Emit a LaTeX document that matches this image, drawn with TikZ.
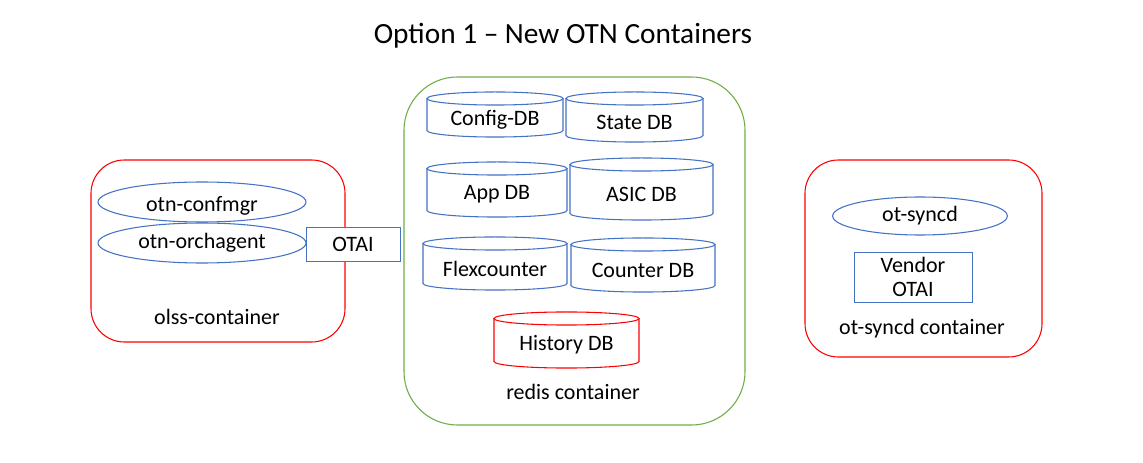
\documentclass[tikz,border=0pt]{standalone}
\usepackage{fontspec}
\setmainfont{Carlito}
\usetikzlibrary{shapes.geometric}
\definecolor{obblue}{HTML}{4472C4}
\definecolor{obred}{HTML}{FF0000}
\definecolor{obgreen}{HTML}{70AD47}
\tikzset{
  lw/.style={line width=0.8pt},
  dbline/.style={lw},
  dbtext/.style={font=\fontsize{16.5}{19}\selectfont, inner sep=0pt},
  lbl/.style={font=\fontsize{16.5}{19}\selectfont, inner sep=0pt},
  procell/.style={ellipse, draw=obblue, lw, inner sep=0pt, font=\fontsize{16.5}{19}\selectfont},
  boxnode/.style={rectangle, draw=obblue, line width=0.7pt, fill=white, inner sep=0pt, font=\fontsize{16.5}{19}\selectfont, align=center},
  contbox/.style={lw, rounded corners=25pt},
}
\newcommand{\dbcyl}[7]{%
  \pgfmathsetmacro{\dbcx}{(#2+#4)/2}%
  \pgfmathsetmacro{\dbcy}{(#3+#5)/2}%
  \pgfmathsetmacro{\dbrx}{(#4-#2)/2*0.75}%
  \draw[dbline,#6] (#2,#3+6.5) -- (#2,#5-6.5) arc[start angle=180,end angle=360,x radius=\dbrx pt,y radius=4.9pt] -- (#4,#3+6.5);
  \draw[dbline,#6] (\dbcx,#3+6.5) ellipse[x radius=\dbrx pt, y radius=4.9pt];
  \node[dbtext] (#1) at (\dbcx,\dbcy+5) {#7};
}
\begin{document}
\begin{tikzpicture}[x=0.75pt,y=-0.75pt]
\useasboundingbox[fill=white] (0,0) rectangle (1143,463);
% title
\node[font=\fontsize{22}{26}\selectfont, inner sep=0pt] (title) at (563,36) {Option 1 – New OTN Containers};

% left container
\draw[contbox, draw=obred] (91,160) rectangle (345,342);
\node[procell, minimum width=156pt, minimum height=30pt, text depth=0pt] (confmgr) at (202,202) {\raisebox{-2.5pt}{otn-confmgr}};
\node[procell, minimum width=156pt, minimum height=30pt] (orch) at (202,243) {\raisebox{-2pt}{otn-orchagent}};
\node[boxnode, minimum width=70.5pt, minimum height=25.5pt] (otai) at (353,244) {\raisebox{-1.5pt}{OTAI}};
\node[lbl] (olss) at (217,317) {olss-container};

% redis container
\draw[lw, draw=obgreen, rounded corners=40pt] (404,77) rectangle (745,425);
\dbcyl{config}{427}{92}{563}{137}{obblue}{Config-DB}
\dbcyl{state}{566}{92}{703}{142}{obblue}{State DB}
\dbcyl{app}{427}{162}{567}{217}{obblue}{App DB}
\dbcyl{asic}{570}{158}{713}{220}{obblue}{ASIC DB}
\dbcyl{flex}{423}{237}{567}{290}{obblue}{Flexcounter}
\dbcyl{counter}{571}{238}{715}{292}{obblue}{Counter DB}
\dbcyl{history}{494}{312}{639}{368}{obred}{History DB}
\node[lbl] (redis) at (573,392) {redis container};

% right container
\draw[contbox, draw=obred] (805,160) rectangle (1042,357);
\node[procell, minimum width=131pt, minimum height=28.5pt] (syncd) at (920,216) {\raisebox{-2pt}{ot-syncd}};
\node[boxnode, minimum width=88.5pt, minimum height=37.5pt, font=\fontsize{16.5}{17.5}\selectfont] (votai) at (913,277) {Vendor\\OTAI};
\node[lbl] (otsc) at (922,329) {ot-syncd container};
\end{tikzpicture}
\end{document}
